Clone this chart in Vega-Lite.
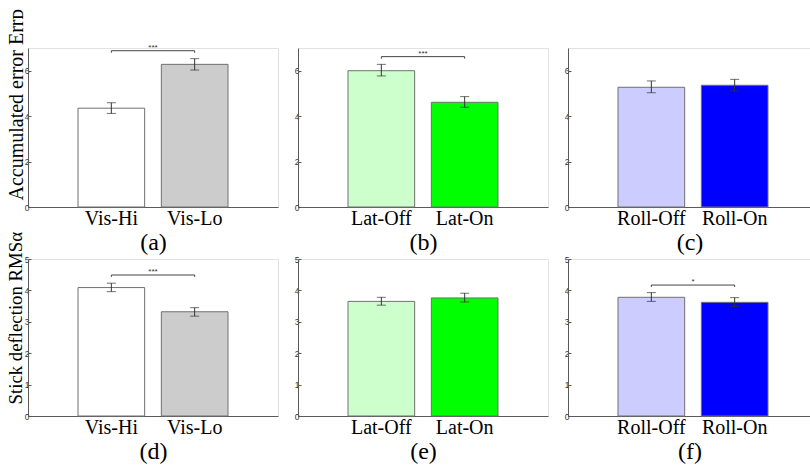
{
  "$schema": "https://vega.github.io/schema/vega-lite/v6.json",
  "padding": {"left": 5, "top": 7, "right": 0, "bottom": 0},
  "background": "white",
  "datasets": {
    "bars": [
      {"panel": "a", "cond": "Vis-Hi", "mean": 4.35, "lo": 4.12, "hi": 4.59},
      {"panel": "a", "cond": "Vis-Lo", "mean": 6.28, "lo": 6.03, "hi": 6.53},
      {"panel": "b", "cond": "Lat-Off", "mean": 6.0, "lo": 5.77, "hi": 6.28},
      {"panel": "b", "cond": "Lat-On", "mean": 4.61, "lo": 4.39, "hi": 4.86},
      {"panel": "c", "cond": "Roll-Off", "mean": 5.27, "lo": 5.03, "hi": 5.55},
      {"panel": "c", "cond": "Roll-On", "mean": 5.36, "lo": 5.11, "hi": 5.62},
      {"panel": "d", "cond": "Vis-Hi", "mean": 4.09, "lo": 3.96, "hi": 4.23},
      {"panel": "d", "cond": "Vis-Lo", "mean": 3.32, "lo": 3.18, "hi": 3.45},
      {"panel": "e", "cond": "Lat-Off", "mean": 3.65, "lo": 3.53, "hi": 3.78},
      {"panel": "e", "cond": "Lat-On", "mean": 3.76, "lo": 3.63, "hi": 3.91},
      {"panel": "f", "cond": "Roll-Off", "mean": 3.78, "lo": 3.65, "hi": 3.93},
      {"panel": "f", "cond": "Roll-On", "mean": 3.62, "lo": 3.49, "hi": 3.77}
    ],
    "brackets": [
      {"panel": "a", "from": "Vis-Hi", "to": "Vis-Lo", "y": 6.88, "label": "***"},
      {"panel": "b", "from": "Lat-Off", "to": "Lat-On", "y": 6.62, "label": "***"},
      {"panel": "d", "from": "Vis-Hi", "to": "Vis-Lo", "y": 4.49, "label": "***"},
      {"panel": "f", "from": "Roll-Off", "to": "Roll-On", "y": 4.17, "label": "*"}
    ],
    "bracketEnds": [
      {"panel": "a", "cond": "Vis-Hi", "y": 6.88, "yEnd": 6.79},
      {"panel": "a", "cond": "Vis-Lo", "y": 6.88, "yEnd": 6.79},
      {"panel": "b", "cond": "Lat-Off", "y": 6.62, "yEnd": 6.53},
      {"panel": "b", "cond": "Lat-On", "y": 6.62, "yEnd": 6.53},
      {"panel": "d", "cond": "Vis-Hi", "y": 4.49, "yEnd": 4.43},
      {"panel": "d", "cond": "Vis-Lo", "y": 4.49, "yEnd": 4.43},
      {"panel": "f", "cond": "Roll-Off", "y": 4.17, "yEnd": 4.11},
      {"panel": "f", "cond": "Roll-On", "y": 4.17, "yEnd": 4.11}
    ]
  },
  "columns": 3,
  "spacing": {"row": 52, "column": 20},
  "bounds": "flush",
  "concat": [
    {
      "width": 250, "height": 159,
      "layer": [
        {"data": {"name": "bars"}, "transform": [{"filter": "datum.panel === 'a'"}],
         "mark": {"type": "bar", "stroke": "#707070", "strokeWidth": 1},
         "encoding": {
           "x": {"field": "cond", "type": "nominal", "scale": {"domain": ["Vis-Hi", "Vis-Lo"], "paddingInner": 0.2, "paddingOuter": 0.6}, "axis": {"title": "(a)", "labelAngle": 0}},
           "y": {"field": "mean", "type": "quantitative", "scale": {"domain": [0, 7]}, "axis": {"title": "Accumulated error Errᴅ", "titleFontSize": 20, "titleX": -2, "titleY": 152, "tickCount": 7, "values": [0, 1, 2, 3, 4, 5, 6, 7], "labelOverlap": false}},
           "color": {"field": "cond", "type": "nominal", "scale": {"domain": ["Vis-Hi", "Vis-Lo", "Lat-Off", "Lat-On", "Roll-Off", "Roll-On"], "range": ["#ffffff", "#cccccc", "#ccffcc", "#00ff00", "#ccccff", "#0000ff"]}, "legend": null}
         }},
        {"data": {"name": "bars"}, "transform": [{"filter": "datum.panel === 'a'"}],
         "mark": {"type": "rule", "color": "#333333", "strokeWidth": 1},
         "encoding": {"x": {"field": "cond", "type": "nominal"}, "y": {"field": "lo", "type": "quantitative", "axis": {"tickCount": 7, "values": [0, 1, 2, 3, 4, 5, 6, 7], "labelOverlap": false}}, "y2": {"field": "hi"}}},
        {"data": {"name": "bars"}, "transform": [{"filter": "datum.panel === 'a'"}],
         "mark": {"type": "tick", "color": "#333333", "size": 9, "thickness": 1, "orient": "horizontal"},
         "encoding": {"x": {"field": "cond", "type": "nominal"}, "y": {"field": "lo", "type": "quantitative", "axis": {"tickCount": 7, "values": [0, 1, 2, 3, 4, 5, 6, 7], "labelOverlap": false}}}},
        {"data": {"name": "bars"}, "transform": [{"filter": "datum.panel === 'a'"}],
         "mark": {"type": "tick", "color": "#333333", "size": 9, "thickness": 1, "orient": "horizontal"},
         "encoding": {"x": {"field": "cond", "type": "nominal"}, "y": {"field": "hi", "type": "quantitative", "axis": {"tickCount": 7, "values": [0, 1, 2, 3, 4, 5, 6, 7], "labelOverlap": false}}}},
        {"data": {"name": "brackets"}, "transform": [{"filter": "datum.panel === 'a'"}],
         "mark": {"type": "rule", "color": "#444444", "strokeWidth": 1},
         "encoding": {"x": {"field": "from", "type": "nominal"}, "x2": {"field": "to"}, "y": {"field": "y", "type": "quantitative", "axis": {"tickCount": 7, "values": [0, 1, 2, 3, 4, 5, 6, 7], "labelOverlap": false}}}},
        {"data": {"name": "bracketEnds"}, "transform": [{"filter": "datum.panel === 'a'"}],
         "mark": {"type": "rule", "color": "#444444", "strokeWidth": 1},
         "encoding": {"x": {"field": "cond", "type": "nominal"}, "y": {"field": "y", "type": "quantitative", "axis": {"tickCount": 7, "values": [0, 1, 2, 3, 4, 5, 6, 7], "labelOverlap": false}}, "y2": {"field": "yEnd"}}},
        {"data": {"name": "brackets"}, "transform": [{"filter": "datum.panel === 'a'"}],
         "mark": {"type": "text", "dx": 41.7, "dy": -1, "baseline": "alphabetic", "font": "Liberation Sans", "fontSize": 8, "color": "#333333"},
         "encoding": {"x": {"field": "from", "type": "nominal"}, "y": {"field": "y", "type": "quantitative", "axis": {"tickCount": 7, "values": [0, 1, 2, 3, 4, 5, 6, 7], "labelOverlap": false}}, "text": {"field": "label"}}}
      ]
    },
    {
      "width": 250, "height": 159,
      "layer": [
        {"data": {"name": "bars"}, "transform": [{"filter": "datum.panel === 'b'"}],
         "mark": {"type": "bar", "stroke": "#707070", "strokeWidth": 1},
         "encoding": {
           "x": {"field": "cond", "type": "nominal", "scale": {"domain": ["Lat-Off", "Lat-On"], "paddingInner": 0.2, "paddingOuter": 0.6}, "axis": {"title": "(b)", "labelAngle": 0}},
           "y": {"field": "mean", "type": "quantitative", "scale": {"domain": [0, 7]}, "axis": {"title": null, "tickCount": 7, "values": [0, 1, 2, 3, 4, 5, 6, 7], "labelOverlap": false}},
           "color": {"field": "cond", "type": "nominal", "legend": null}
         }},
        {"data": {"name": "bars"}, "transform": [{"filter": "datum.panel === 'b'"}],
         "mark": {"type": "rule", "color": "#333333", "strokeWidth": 1},
         "encoding": {"x": {"field": "cond", "type": "nominal"}, "y": {"field": "lo", "type": "quantitative", "axis": {"title": null, "tickCount": 7, "values": [0, 1, 2, 3, 4, 5, 6, 7], "labelOverlap": false}}, "y2": {"field": "hi"}}},
        {"data": {"name": "bars"}, "transform": [{"filter": "datum.panel === 'b'"}],
         "mark": {"type": "tick", "color": "#333333", "size": 9, "thickness": 1, "orient": "horizontal"},
         "encoding": {"x": {"field": "cond", "type": "nominal"}, "y": {"field": "lo", "type": "quantitative", "axis": {"title": null, "tickCount": 7, "values": [0, 1, 2, 3, 4, 5, 6, 7], "labelOverlap": false}}}},
        {"data": {"name": "bars"}, "transform": [{"filter": "datum.panel === 'b'"}],
         "mark": {"type": "tick", "color": "#333333", "size": 9, "thickness": 1, "orient": "horizontal"},
         "encoding": {"x": {"field": "cond", "type": "nominal"}, "y": {"field": "hi", "type": "quantitative", "axis": {"title": null, "tickCount": 7, "values": [0, 1, 2, 3, 4, 5, 6, 7], "labelOverlap": false}}}},
        {"data": {"name": "brackets"}, "transform": [{"filter": "datum.panel === 'b'"}],
         "mark": {"type": "rule", "color": "#444444", "strokeWidth": 1},
         "encoding": {"x": {"field": "from", "type": "nominal"}, "x2": {"field": "to"}, "y": {"field": "y", "type": "quantitative", "axis": {"title": null, "tickCount": 7, "values": [0, 1, 2, 3, 4, 5, 6, 7], "labelOverlap": false}}}},
        {"data": {"name": "bracketEnds"}, "transform": [{"filter": "datum.panel === 'b'"}],
         "mark": {"type": "rule", "color": "#444444", "strokeWidth": 1},
         "encoding": {"x": {"field": "cond", "type": "nominal"}, "y": {"field": "y", "type": "quantitative", "axis": {"title": null, "tickCount": 7, "values": [0, 1, 2, 3, 4, 5, 6, 7], "labelOverlap": false}}, "y2": {"field": "yEnd"}}},
        {"data": {"name": "brackets"}, "transform": [{"filter": "datum.panel === 'b'"}],
         "mark": {"type": "text", "dx": 41.7, "dy": -1, "baseline": "alphabetic", "font": "Liberation Sans", "fontSize": 8, "color": "#333333"},
         "encoding": {"x": {"field": "from", "type": "nominal"}, "y": {"field": "y", "type": "quantitative", "axis": {"title": null, "tickCount": 7, "values": [0, 1, 2, 3, 4, 5, 6, 7], "labelOverlap": false}}, "text": {"field": "label"}}}
      ]
    },
    {
      "width": 243, "height": 159,
      "layer": [
        {"data": {"name": "bars"}, "transform": [{"filter": "datum.panel === 'c'"}],
         "mark": {"type": "bar", "stroke": "#707070", "strokeWidth": 1},
         "encoding": {
           "x": {"field": "cond", "type": "nominal", "scale": {"domain": ["Roll-Off", "Roll-On"], "paddingInner": 0.2, "paddingOuter": 0.558, "align": 0.5376}, "axis": {"title": "(c)", "labelAngle": 0}},
           "y": {"field": "mean", "type": "quantitative", "scale": {"domain": [0, 7]}, "axis": {"title": null, "tickCount": 7, "values": [0, 1, 2, 3, 4, 5, 6, 7], "labelOverlap": false}},
           "color": {"field": "cond", "type": "nominal", "legend": null}
         }},
        {"data": {"name": "bars"}, "transform": [{"filter": "datum.panel === 'c'"}],
         "mark": {"type": "rule", "color": "#333333", "strokeWidth": 1},
         "encoding": {"x": {"field": "cond", "type": "nominal"}, "y": {"field": "lo", "type": "quantitative", "axis": {"title": null, "tickCount": 7, "values": [0, 1, 2, 3, 4, 5, 6, 7], "labelOverlap": false}}, "y2": {"field": "hi"}}},
        {"data": {"name": "bars"}, "transform": [{"filter": "datum.panel === 'c'"}],
         "mark": {"type": "tick", "color": "#333333", "size": 9, "thickness": 1, "orient": "horizontal"},
         "encoding": {"x": {"field": "cond", "type": "nominal"}, "y": {"field": "lo", "type": "quantitative", "axis": {"title": null, "tickCount": 7, "values": [0, 1, 2, 3, 4, 5, 6, 7], "labelOverlap": false}}}},
        {"data": {"name": "bars"}, "transform": [{"filter": "datum.panel === 'c'"}],
         "mark": {"type": "tick", "color": "#333333", "size": 9, "thickness": 1, "orient": "horizontal"},
         "encoding": {"x": {"field": "cond", "type": "nominal"}, "y": {"field": "hi", "type": "quantitative", "axis": {"title": null, "tickCount": 7, "values": [0, 1, 2, 3, 4, 5, 6, 7], "labelOverlap": false}}}}
      ]
    },
    {
      "width": 250, "height": 157,
      "layer": [
        {"data": {"name": "bars"}, "transform": [{"filter": "datum.panel === 'd'"}],
         "mark": {"type": "bar", "stroke": "#707070", "strokeWidth": 1},
         "encoding": {
           "x": {"field": "cond", "type": "nominal", "scale": {"domain": ["Vis-Hi", "Vis-Lo"], "paddingInner": 0.2, "paddingOuter": 0.6}, "axis": {"title": "(d)", "labelAngle": 0}},
           "y": {"field": "mean", "type": "quantitative", "scale": {"domain": [0, 5]}, "axis": {"title": "Stick deflection RMSα", "titleFontSize": 18.8, "titleX": -3, "titleY": 145, "values": [0, 1, 2, 3, 4, 5], "labelOverlap": false}},
           "color": {"field": "cond", "type": "nominal", "legend": null}
         }},
        {"data": {"name": "bars"}, "transform": [{"filter": "datum.panel === 'd'"}],
         "mark": {"type": "rule", "color": "#333333", "strokeWidth": 1},
         "encoding": {"x": {"field": "cond", "type": "nominal"}, "y": {"field": "lo", "type": "quantitative"}, "y2": {"field": "hi"}}},
        {"data": {"name": "bars"}, "transform": [{"filter": "datum.panel === 'd'"}],
         "mark": {"type": "tick", "color": "#333333", "size": 9, "thickness": 1, "orient": "horizontal"},
         "encoding": {"x": {"field": "cond", "type": "nominal"}, "y": {"field": "lo", "type": "quantitative"}}},
        {"data": {"name": "bars"}, "transform": [{"filter": "datum.panel === 'd'"}],
         "mark": {"type": "tick", "color": "#333333", "size": 9, "thickness": 1, "orient": "horizontal"},
         "encoding": {"x": {"field": "cond", "type": "nominal"}, "y": {"field": "hi", "type": "quantitative"}}},
        {"data": {"name": "brackets"}, "transform": [{"filter": "datum.panel === 'd'"}],
         "mark": {"type": "rule", "color": "#444444", "strokeWidth": 1},
         "encoding": {"x": {"field": "from", "type": "nominal"}, "x2": {"field": "to"}, "y": {"field": "y", "type": "quantitative"}}},
        {"data": {"name": "bracketEnds"}, "transform": [{"filter": "datum.panel === 'd'"}],
         "mark": {"type": "rule", "color": "#444444", "strokeWidth": 1},
         "encoding": {"x": {"field": "cond", "type": "nominal"}, "y": {"field": "y", "type": "quantitative"}, "y2": {"field": "yEnd"}}},
        {"data": {"name": "brackets"}, "transform": [{"filter": "datum.panel === 'd'"}],
         "mark": {"type": "text", "dx": 41.7, "dy": -1, "baseline": "alphabetic", "font": "Liberation Sans", "fontSize": 8, "color": "#333333"},
         "encoding": {"x": {"field": "from", "type": "nominal"}, "y": {"field": "y", "type": "quantitative"}, "text": {"field": "label"}}}
      ]
    },
    {
      "width": 250, "height": 157,
      "layer": [
        {"data": {"name": "bars"}, "transform": [{"filter": "datum.panel === 'e'"}],
         "mark": {"type": "bar", "stroke": "#707070", "strokeWidth": 1},
         "encoding": {
           "x": {"field": "cond", "type": "nominal", "scale": {"domain": ["Lat-Off", "Lat-On"], "paddingInner": 0.2, "paddingOuter": 0.6}, "axis": {"title": "(e)", "labelAngle": 0}},
           "y": {"field": "mean", "type": "quantitative", "scale": {"domain": [0, 5]}, "axis": {"title": null, "values": [0, 1, 2, 3, 4, 5], "labelOverlap": false}},
           "color": {"field": "cond", "type": "nominal", "legend": null}
         }},
        {"data": {"name": "bars"}, "transform": [{"filter": "datum.panel === 'e'"}],
         "mark": {"type": "rule", "color": "#333333", "strokeWidth": 1},
         "encoding": {"x": {"field": "cond", "type": "nominal"}, "y": {"field": "lo", "type": "quantitative"}, "y2": {"field": "hi"}}},
        {"data": {"name": "bars"}, "transform": [{"filter": "datum.panel === 'e'"}],
         "mark": {"type": "tick", "color": "#333333", "size": 9, "thickness": 1, "orient": "horizontal"},
         "encoding": {"x": {"field": "cond", "type": "nominal"}, "y": {"field": "lo", "type": "quantitative"}}},
        {"data": {"name": "bars"}, "transform": [{"filter": "datum.panel === 'e'"}],
         "mark": {"type": "tick", "color": "#333333", "size": 9, "thickness": 1, "orient": "horizontal"},
         "encoding": {"x": {"field": "cond", "type": "nominal"}, "y": {"field": "hi", "type": "quantitative"}}}
      ]
    },
    {
      "width": 243, "height": 157,
      "layer": [
        {"data": {"name": "bars"}, "transform": [{"filter": "datum.panel === 'f'"}],
         "mark": {"type": "bar", "stroke": "#707070", "strokeWidth": 1},
         "encoding": {
           "x": {"field": "cond", "type": "nominal", "scale": {"domain": ["Roll-Off", "Roll-On"], "paddingInner": 0.2, "paddingOuter": 0.558, "align": 0.5376}, "axis": {"title": "(f)", "labelAngle": 0}},
           "y": {"field": "mean", "type": "quantitative", "scale": {"domain": [0, 5]}, "axis": {"title": null, "values": [0, 1, 2, 3, 4, 5], "labelOverlap": false}},
           "color": {"field": "cond", "type": "nominal", "legend": null}
         }},
        {"data": {"name": "bars"}, "transform": [{"filter": "datum.panel === 'f'"}],
         "mark": {"type": "rule", "color": "#333333", "strokeWidth": 1},
         "encoding": {"x": {"field": "cond", "type": "nominal"}, "y": {"field": "lo", "type": "quantitative"}, "y2": {"field": "hi"}}},
        {"data": {"name": "bars"}, "transform": [{"filter": "datum.panel === 'f'"}],
         "mark": {"type": "tick", "color": "#333333", "size": 9, "thickness": 1, "orient": "horizontal"},
         "encoding": {"x": {"field": "cond", "type": "nominal"}, "y": {"field": "lo", "type": "quantitative"}}},
        {"data": {"name": "bars"}, "transform": [{"filter": "datum.panel === 'f'"}],
         "mark": {"type": "tick", "color": "#333333", "size": 9, "thickness": 1, "orient": "horizontal"},
         "encoding": {"x": {"field": "cond", "type": "nominal"}, "y": {"field": "hi", "type": "quantitative"}}},
        {"data": {"name": "brackets"}, "transform": [{"filter": "datum.panel === 'f'"}],
         "mark": {"type": "rule", "color": "#444444", "strokeWidth": 1},
         "encoding": {"x": {"field": "from", "type": "nominal"}, "x2": {"field": "to"}, "y": {"field": "y", "type": "quantitative"}}},
        {"data": {"name": "bracketEnds"}, "transform": [{"filter": "datum.panel === 'f'"}],
         "mark": {"type": "rule", "color": "#444444", "strokeWidth": 1},
         "encoding": {"x": {"field": "cond", "type": "nominal"}, "y": {"field": "y", "type": "quantitative"}, "y2": {"field": "yEnd"}}},
        {"data": {"name": "brackets"}, "transform": [{"filter": "datum.panel === 'f'"}],
         "mark": {"type": "text", "dx": 41.7, "dy": -1, "baseline": "alphabetic", "font": "Liberation Sans", "fontSize": 8, "color": "#333333"},
         "encoding": {"x": {"field": "from", "type": "nominal"}, "y": {"field": "y", "type": "quantitative"}, "text": {"field": "label"}}}
      ]
    }
  ],
  "config": {
    "view": {"stroke": "#e2e2e2", "strokeWidth": 1},
    "axis": {"grid": false, "domainColor": "#5a5a5a", "tickColor": "#5a5a5a", "domainWidth": 1, "tickWidth": 1},
    "axisY": {"tickCount": 7, "labelFont": "Liberation Sans", "labelFontSize": 8.5, "labelColor": "#333333", "labelOverlap": false, "tickSize": -3, "labelPadding": 2, "titleFont": "Liberation Serif", "titleFontSize": 21, "titleFontWeight": "normal", "titleColor": "#000000", "titleAnchor": "start", "titleAlign": "left", "titleX": -1, "titleBaseline": "bottom"},
    "axisX": {"ticks": false, "labelFont": "Liberation Serif", "labelFontSize": 20, "labelColor": "#000000", "labelPadding": 1, "titleFont": "Liberation Serif", "titleFontSize": 24, "titleFontWeight": "normal", "titleColor": "#000000", "titlePadding": 2}
  }
}
